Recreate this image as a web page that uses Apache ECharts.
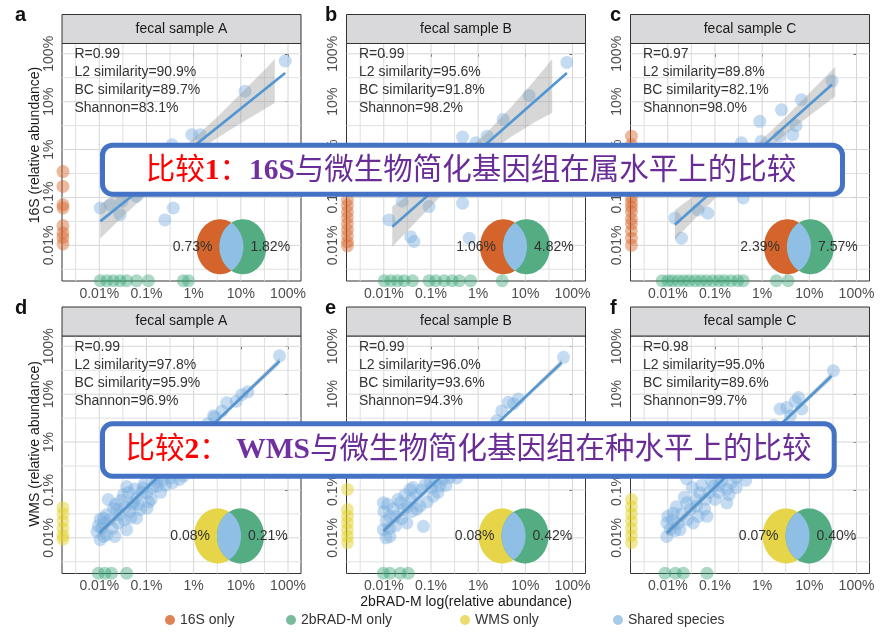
<!DOCTYPE html>
<html>
<head>
<meta charset="utf-8">
<script src="https://cdn.jsdelivr.net/npm/echarts@6/dist/echarts.min.js"></script>
<style>
html,body{margin:0;padding:0;background:#fff;}
#chart{width:885px;height:634px;}
</style>
</head>
<body>
<div id="chart"></div>
<script>
// ---- axis scale (log10 of relative abundance) ----
const tickValues = [-4, -3, -2, -1, 0];
const tickLabels = ['0.01%', '0.1%', '1%', '10%', '100%'];
const gridValues = [-4.5, -4, -3.5, -3, -2.5, -2, -1.5, -1, -0.5, 0];
const xRange = [-4.79, 0.275];
const yRange = [-4.745, 0.215];
// taxa missing from one method sit on the axis floor
const absentX = -4.77;
const absentY = -4.74;

// ---- panel text ----
const panelLetters = ['a', 'b', 'c', 'd', 'e', 'f'];
const stripTitles = ['fecal sample A', 'fecal sample B', 'fecal sample C', 'fecal sample A', 'fecal sample B', 'fecal sample C'];
const statR = ['0.99', '0.99', '0.97', '0.99', '0.99', '0.98'];
const statL2 = ['90.9%', '95.6%', '89.8%', '97.8%', '96.0%', '95.0%'];
const statBC = ['89.7%', '91.8%', '82.1%', '95.9%', '93.6%', '89.6%'];
const statShannon = ['83.1%', '98.2%', '98.0%', '96.9%', '94.3%', '99.7%'];
const vennLeft = ['0.73%', '1.06%', '2.39%', '0.08%', '0.08%', '0.07%'];
const vennRight = ['1.82%', '4.82%', '7.57%', '0.21%', '0.42%', '0.40%'];
const vennCenter = [[-1.20, -4.03], [-1.22, -4.03], [-1.22, -4.03], [-1.25, -3.96], [-1.25, -3.96], [-1.25, -3.96]];

// ---- shared taxa: [2bRAD-M, other method] in log10 abundance ----
const sharedA = [[-0.06,-0.15],[-0.91,-0.78],[-2.04,-1.69],[-1.86,-1.69],[-2.46,-1.90],[-2.2,-2.3],[-2.7,-2.5],[-3.0,-2.7],
  [-3.98,-3.22],[-3.77,-3.15],[-3.56,-3.36],[-3.52,-3.08],[-2.43,-3.22],[-2.61,-3.47],[-3.21,-2.98]];
const sharedB = [[-0.12,-0.18],[-0.92,-0.87],[-1.47,-1.37],[-1.81,-1.72],[-2.33,-1.74],[-2.05,-1.86],[-2.5,-2.4],[-3.0,-2.8],
  [-3.61,-3.08],[-3.04,-3.19],[-2.33,-3.12],[-3.89,-3.47],[-3.43,-3.82],[-3.36,-3.92],[-2.19,-3.85]];
const sharedC = [[-0.52,-0.57],[-1.17,-0.96],[-1.59,-1.17],[-2.05,-1.41],[-1.28,-1.50],[-1.35,-1.69],[-1.63,-1.72],[-2.44,-1.86],
  [-2.02,-1.83],[-2.6,-2.4],[-2.9,-2.7],[-2.40,-3.01],[-3.15,-3.33],[-3.36,-3.26],[-3.85,-3.43],[-3.71,-3.85]];
const sharedD = [[-0.18,-0.20],[-0.98,-1.01],[-1.30,-1.18],[-1.55,-1.48],[-1.58,-1.45],[-1.85,-1.75],[-2.1,-2.0],[-2.3,-2.25],
  [-2.5,-2.45],[-2.22,-2.71],[-2.50,-2.75],[-2.78,-2.82],[-2.78,-2.92],[-3.07,-2.96],[-2.99,-3.06],[-3.42,-2.93],[-3.49,-3.10],
  [-3.21,-3.17],[-2.99,-3.38],[-3.14,-3.41],[-3.70,-3.38],[-3.63,-3.41],[-3.35,-3.45],[-3.81,-3.20],[-3.91,-3.59],[-3.60,-3.69],
  [-3.21,-3.59],[-3.98,-3.61],[-4.05,-3.87],[-3.84,-3.94],[-3.98,-4.04],[-3.67,-3.97],[-3.91,-3.97],[-3.42,-3.83],[-3.3,-3.3],
  [-2.9,-3.2],[-2.6,-2.9],
  [-4.02,-3.75],[-3.95,-3.80],[-3.90,-3.70],[-3.85,-3.52],[-3.78,-3.62],[-3.72,-3.80],[-3.66,-3.30],[-3.58,-3.52],[-3.54,-3.22],
  [-3.47,-3.62],[-3.45,-3.35],[-3.38,-3.05],[-3.33,-3.58],[-3.28,-3.25],[-3.25,-2.98],[-3.18,-3.30],[-3.10,-3.05],[-3.05,-2.88],
  [-2.95,-3.25],[-2.88,-2.95],[-2.82,-2.75],[-2.70,-3.05],[-2.66,-2.80],[-2.58,-2.62],[-2.45,-2.85],[-2.38,-2.62],[-2.30,-2.78],
  [-2.15,-2.55],[-2.05,-2.30],[-1.95,-2.10],[-1.8,-1.95],[-1.7,-1.62],[-1.4,-1.35],[-1.1,-1.15],[-0.85,-0.95]];
const sharedE = [[-0.19,-0.23],[-1.36,-1.17],[-1.15,-1.10],[-1.6,-1.55],[-1.9,-1.9],[-2.2,-2.2],[-2.4,-2.5],[-2.60,-2.74],
  [-3.02,-2.85],[-3.44,-2.99],[-3.65,-3.27],[-4.01,-3.27],[-3.87,-3.55],[-4.01,-3.83],[-3.87,-3.97],[-3.51,-3.69],[-3.16,-3.76],
  [-3.23,-3.34],[-2.95,-3.13],[-2.81,-2.92],[-3.58,-3.41],[-3.3,-3.1],[-3.75,-3.75],[-3.95,-4.0],[-3.4,-3.45],
  [-4.00,-3.45],[-3.95,-3.65],[-3.92,-3.30],[-3.88,-3.80],[-3.80,-3.40],[-3.75,-3.55],[-3.70,-3.20],[-3.62,-3.60],[-3.55,-3.10],
  [-3.50,-3.35],[-3.42,-3.20],[-3.38,-2.95],[-3.30,-3.40],[-3.20,-3.00],[-3.12,-2.88],[-3.08,-3.25],[-2.98,-2.95],[-2.90,-2.80],
  [-2.85,-3.05],[-2.75,-2.78],[-2.68,-2.90],[-2.55,-2.62],[-2.45,-2.75],[-2.3,-2.4],[-2.1,-2.05],[-1.8,-1.75],[-1.5,-1.35],
  [-1.25,-1.2]];
const sharedF = [[-0.49,-0.51],[-1.23,-1.07],[-1.48,-1.28],[-1.62,-1.31],[-1.16,-1.31],[-1.9,-1.8],[-2.2,-2.1],[-2.4,-2.5],
  [-2.54,-2.74],[-2.75,-2.99],[-3.03,-2.92],[-3.32,-3.06],[-3.60,-3.27],[-3.39,-3.34],[-3.88,-3.48],[-4.02,-3.69],[-3.74,-3.83],
  [-3.46,-3.69],[-4.02,-3.97],[-3.17,-3.55],[-2.75,-3.27],[-3.60,-2.77],[-3.85,-3.85],[-3.2,-3.2],[-2.9,-2.9],
  [-4.00,-3.55],[-3.95,-3.82],[-3.90,-3.62],[-3.82,-3.35],[-3.78,-3.70],[-3.70,-3.50],[-3.65,-3.15],[-3.58,-3.62],[-3.52,-3.40],
  [-3.48,-2.95],[-3.40,-3.20],[-3.35,-3.55],[-3.28,-2.90],[-3.22,-3.40],[-3.12,-3.05],[-3.08,-2.80],[-3.00,-3.20],[-2.92,-3.05],
  [-2.85,-2.80],[-2.70,-3.10],[-2.65,-2.85],[-2.55,-2.95],[-2.48,-2.62],[-2.35,-2.80],[-2.2,-2.45],[-2.0,-2.1],[-1.75,-1.65],
  [-1.4,-1.45],[-1.3,-1.15]];

// ---- taxa found only by the other method (16S or WMS): log10 abundance ----
const otherOnlyA = [-2.46,-2.77,-3.15,-3.22,-3.59,-3.74,-3.84,-3.97];
const otherOnlyB = [-2.2,-2.6,-3.05,-3.17,-3.30,-3.42,-3.55,-3.68,-3.80,-3.93,-4.01];
const otherOnlyC = [-1.72,-1.90,-2.2,-2.6,-3.0,-3.1,-3.2,-3.3,-3.45,-3.55,-3.7,-3.85,-4.0];
const otherOnlyD = [-3.37,-3.5,-3.65,-3.8,-3.95,-4.03];
const otherOnlyE = [-2.99,-3.41,-3.55,-3.69,-3.83,-3.97,-4.1];
const otherOnlyF = [-3.2,-3.35,-3.5,-3.65,-3.8,-3.95,-4.1];

// ---- taxa found only by 2bRAD-M: log10 abundance ----
const radOnlyA = [-3.98,-3.84,-3.70,-3.56,-3.42,-3.21,-2.96,-2.22,-2.11];
const radOnlyB = [-3.99,-3.85,-3.71,-3.57,-3.39,-3.04,-2.90,-2.72,-2.55,-2.40,-2.16,-1.49];
const radOnlyC = [-4.12,-4.0,-3.9,-3.78,-3.66,-3.55,-3.42,-3.3,-3.18,-3.05,-2.92,-2.8,-2.66,-2.52,-2.40,-1.70,-1.45];
const radOnlyD = [-4.02,-3.88,-3.74,-3.42];
const radOnlyE = [-4.01,-3.87,-3.65,-3.48];
const radOnlyF = [-4.06,-3.84,-3.67,-3.17];

// ---- linear fit and 95% band: [x, lower, upper] ----
const fitA = [[-3.98,-3.50],[-0.06,-0.40]];
const fitB = [[-3.82,-3.61],[-0.12,-0.40]];
const fitC = [[-3.85,-3.57],[-0.52,-0.64]];
const fitD = [[-4.00,-3.90],[-0.18,-0.31]];
const fitE = [[-4.01,-3.86],[-0.23,-0.34]];
const fitF = [[-4.02,-3.90],[-0.53,-0.62]];
const bandA = [[-3.98,-3.86,-3.14],[-3.5,-3.40,-2.84],[-3.0,-2.94,-2.52],[-2.5,-2.49,-2.17],[-2.0,-2.09,-1.77],
  [-1.5,-1.76,-1.32],[-1.0,-1.45,-0.83],[-0.5,-1.16,-0.34],[-0.28,-1.03,-0.11]];
const bandB = [[-3.82,-4.03,-3.19],[-3.3,-3.49,-2.83],[-2.8,-2.98,-2.48],[-2.3,-2.50,-2.08],[-1.8,-2.09,-1.63],
  [-1.3,-1.73,-1.11],[-0.8,-1.43,-0.55],[-0.43,-1.23,-0.11]];
const bandC = [[-3.85,-3.88,-3.26],[-3.3,-3.32,-2.86],[-2.7,-2.73,-2.39],[-2.1,-2.18,-1.88],[-1.5,-1.68,-1.32],
  [-0.9,-1.22,-0.72],[-0.45,-0.89,-0.27]];
const bandD = [[-4.00,-3.97,-3.83],[-3.0,-3.00,-2.92],[-2.0,-2.05,-1.99],[-1.0,-1.13,-1.03],[-0.18,-0.38,-0.24]];
const bandE = [[-4.01,-3.93,-3.79],[-3.0,-2.96,-2.88],[-2.0,-2.02,-1.96],[-1.0,-1.11,-1.01],[-0.23,-0.41,-0.27]];
const bandF = [[-4.02,-3.98,-3.82],[-3.0,-2.99,-2.89],[-2.0,-2.04,-1.96],[-1.2,-1.30,-1.20],[-0.53,-0.70,-0.54]];

const shared = [sharedA, sharedB, sharedC, sharedD, sharedE, sharedF];
const otherOnly = [otherOnlyA, otherOnlyB, otherOnlyC, otherOnlyD, otherOnlyE, otherOnlyF];
const radOnly = [radOnlyA, radOnlyB, radOnlyC, radOnlyD, radOnlyE, radOnlyF];
const fits = [fitA, fitB, fitC, fitD, fitE, fitF];
const bands = [bandA, bandB, bandC, bandD, bandE, bandF];

// ---- styling ----
const FONT = '"Liberation Sans", Arial, sans-serif';
const colOrange = 'rgba(214,98,38,0.55)';
const colGreen = 'rgba(45,160,112,0.5)';
const colYellow = 'rgba(228,208,40,0.6)';
const colBlue = 'rgba(120,172,222,0.55)';
const vennColors = { orange: '#D4642B', green: '#54AC83', yellow: '#E6D548', lens: '#8FBFE4' };

const colLeft = [62, 346.5, 630.5];
const rowTop = [43.5, 336];
const letterX = [15, 325, 610];
const plotW = 239, plotH = 237.5, stripH = 29;

const grids = [], xAxes = [], yAxes = [], series = [], graphics = [];

function tickText(v) {
  const k = tickValues.indexOf(Math.round(v));
  return k >= 0 ? tickLabels[k] : '';
}

for (let i = 0; i < 6; i++) {
  const r = Math.floor(i / 3), c = i % 3;
  const left = colLeft[c], top = rowTop[r];
  grids.push({ left: left, top: top, width: plotW, height: plotH, show: true, z: 0,
    backgroundColor: 'transparent', borderColor: '#333', borderWidth: 1, outerBoundsMode: 'none' });
  xAxes.push({ type: 'value', gridIndex: i, min: xRange[0], max: xRange[1],
    axisLine: { show: false }, splitLine: { show: false },
    axisTick: { show: true, customValues: tickValues, length: 3, lineStyle: { color: '#333' } },
    axisLabel: { show: true, customValues: tickValues, formatter: tickText, fontSize: 14,
      color: '#4d4d4d', margin: 6, fontFamily: FONT } });
  yAxes.push({ type: 'value', gridIndex: i, min: yRange[0], max: yRange[1],
    axisLine: { show: false }, splitLine: { show: false },
    axisTick: { show: true, customValues: tickValues, length: 3, lineStyle: { color: '#333' } },
    axisLabel: { show: true, customValues: tickValues, formatter: tickText, fontSize: 14, rotate: 90,
      align: 'center', verticalAlign: 'bottom',
      color: '#4d4d4d', margin: 6, fontFamily: FONT } });

  // background grid lines at decades and half decades
  gridValues.forEach(v => {
    const major = Number.isInteger(v);
    const ls = { color: major ? '#d6d6d6' : '#e0e0e0', width: 1, type: 'solid' };
    series.push({ type: 'line', xAxisIndex: i, yAxisIndex: i, z: 2, silent: true, animation: false,
      symbol: 'none', lineStyle: ls, data: [[v, yRange[0]], [v, yRange[1]]] });
    series.push({ type: 'line', xAxisIndex: i, yAxisIndex: i, z: 2, silent: true, animation: false,
      symbol: 'none', lineStyle: ls, data: [[xRange[0], v], [xRange[1], v]] });
  });

  // taxa shared by both methods
  series.push({ name: 'Shared species', type: 'scatter', xAxisIndex: i, yAxisIndex: i, z: 3, clip: false,
    symbolSize: 13, itemStyle: { color: colBlue }, data: shared[i], animation: false, silent: true });
  // taxa only in 16S / WMS, placed on the left edge
  series.push({ name: r === 0 ? '16S only' : 'WMS only', type: 'scatter', xAxisIndex: i, yAxisIndex: i, z: 3, clip: false,
    symbolSize: 13, itemStyle: { color: r === 0 ? colOrange : colYellow },
    data: otherOnly[i].map(v => [absentX, v]), animation: false, silent: true });
  // taxa only in 2bRAD-M, placed on the bottom edge
  series.push({ name: '2bRAD-M only', type: 'scatter', xAxisIndex: i, yAxisIndex: i, z: 3, clip: false,
    symbolSize: 13, itemStyle: { color: colGreen },
    data: radOnly[i].map(v => [v, absentY]), animation: false, silent: true });

  // confidence band
  const band = bands[i];
  series.push({ type: 'custom', xAxisIndex: i, yAxisIndex: i, z: 4, silent: true, animation: false,
    data: [[band[0][0], band[0][1]]],
    renderItem: function (params, api) {
      const up = band.map(b => api.coord([b[0], b[2]]));
      const lo = band.map(b => api.coord([b[0], b[1]])).reverse();
      return { type: 'polygon', shape: { points: up.concat(lo) },
        style: { fill: 'rgba(150,150,150,0.38)' } };
    } });
  // fitted line
  series.push({ type: 'line', xAxisIndex: i, yAxisIndex: i, z: 5, data: fits[i], symbol: 'none', silent: true,
    animation: false, lineStyle: { color: '#5296D3', width: 2.6 } });

  // Venn inset of taxa overlap
  const leftCol = r === 0 ? vennColors.orange : vennColors.yellow;
  const lt = vennLeft[i], rt = vennRight[i];
  series.push({ type: 'custom', xAxisIndex: i, yAxisIndex: i, z: 7, silent: true, animation: false, clip: false,
    data: [vennCenter[i]],
    renderItem: function (params, api) {
      const p = api.coord([api.value(0), api.value(1)]);
      const rx = 23.5, ry = 27.5, off = 11.5;
      const ellipse = (cx) => {
        const pts = [];
        for (let k = 0; k < 90; k++) {
          const t = k / 90 * Math.PI * 2;
          pts.push([cx + rx * Math.cos(t), p[1] + ry * Math.sin(t)]);
        }
        return pts;
      };
      const t0 = Math.acos(off / rx);
      const lens = [];
      for (let k = 0; k <= 40; k++) {
        const t = -t0 + 2 * t0 * k / 40;
        lens.push([p[0] - off + rx * Math.cos(t), p[1] + ry * Math.sin(t)]);
      }
      for (let k = 0; k <= 40; k++) {
        const t = t0 - 2 * t0 * k / 40;
        lens.push([p[0] + off - rx * Math.cos(t), p[1] + ry * Math.sin(t)]);
      }
      return { type: 'group', children: [
        { type: 'polygon', shape: { points: ellipse(p[0] - off) }, style: { fill: leftCol } },
        { type: 'polygon', shape: { points: ellipse(p[0] + off) }, style: { fill: vennColors.green } },
        { type: 'polygon', shape: { points: lens }, style: { fill: vennColors.lens } },
        { type: 'text', style: { text: lt, x: p[0] - 19, y: p[1], align: 'right', verticalAlign: 'middle',
          fill: '#333', fontSize: 14, fontFamily: FONT } },
        { type: 'text', style: { text: rt, x: p[0] + 19, y: p[1], align: 'left', verticalAlign: 'middle',
          fill: '#333', fontSize: 14, fontFamily: FONT } }
      ] };
    } });

  // facet strip
  graphics.push({ type: 'rect', z: 20, shape: { x: left, y: top - stripH, width: plotW, height: stripH },
    style: { fill: '#d9d9db', stroke: '#333', lineWidth: 1 } });
  graphics.push({ type: 'text', z: 21, x: left + plotW / 2, y: top - stripH / 2,
    style: { text: stripTitles[i], fill: '#1a1a1a', font: '14px ' + FONT, textAlign: 'center', textVerticalAlign: 'middle',
      align: 'center', verticalAlign: 'middle' } });
  // panel letter
  graphics.push({ type: 'text', z: 21, x: letterX[c], y: top - 28,
    style: { text: panelLetters[i], fill: '#111', font: 'bold 20px ' + FONT, textAlign: 'left', textVerticalAlign: 'middle',
      align: 'left', verticalAlign: 'middle' } });
  // agreement statistics
  graphics.push({ type: 'text', z: 21, x: left + 12.5, y: top + 2,
    style: { text: 'R=' + statR[i] + '\nL2 similarity=' + statL2[i] + '\nBC similarity=' + statBC[i] + '\nShannon=' + statShannon[i],
      fill: '#333', font: '14px ' + FONT, lineHeight: 18, textAlign: 'left', textVerticalAlign: 'top',
      align: 'left', verticalAlign: 'top' } });
}

// axis titles
graphics.push({ type: 'text', z: 21, x: 35, y: 145, rotation: Math.PI / 2,
  style: { text: '16S (relative abundance)', fill: '#1a1a1a', font: '14px ' + FONT,
    textAlign: 'center', textVerticalAlign: 'middle', align: 'center', verticalAlign: 'middle' } });
graphics.push({ type: 'text', z: 21, x: 35, y: 444, rotation: Math.PI / 2,
  style: { text: 'WMS (relative abundance)', fill: '#1a1a1a', font: '14px ' + FONT,
    textAlign: 'center', textVerticalAlign: 'middle', align: 'center', verticalAlign: 'middle' } });
graphics.push({ type: 'text', z: 21, x: colLeft[1] + plotW / 2, y: 602,
  style: { text: '2bRAD-M log(relative abundance)', fill: '#1a1a1a', font: '14px ' + FONT,
    textAlign: 'center', textVerticalAlign: 'middle', align: 'center', verticalAlign: 'middle' } });

// callout boxes
const SERIF = '"Liberation Serif", "Noto Sans CJK SC", serif';
const CJK = '"Liberation Serif", "Noto Sans CJK SC", sans-serif';
const calloutRich = {
  r: { fill: '#FF0000', fontSize: 29.5, fontFamily: CJK },
  rb: { fill: '#FF0000', fontSize: 29.5, fontFamily: SERIF, fontWeight: 'bold' },
  b: { fill: '#7030A0', fontSize: 29.5, fontFamily: SERIF, fontWeight: 'bold' },
  p: { fill: '#6A2C96', fontSize: 29.5, fontFamily: CJK }
};
graphics.push({ type: 'rect', z: 50, shape: { x: 102.5, y: 145.2, width: 740, height: 49, r: 10 },
  style: { fill: '#fff', stroke: '#4472C4', lineWidth: 5 } });
graphics.push({ type: 'text', z: 51, x: 471, y: 171,
  style: { text: '{r|比较}{rb|1}{r|：}{b|16S}{p|与微生物简化基因组在属水平上的比较}', rich: calloutRich,
    textAlign: 'center', textVerticalAlign: 'middle', align: 'center', verticalAlign: 'middle' } });
graphics.push({ type: 'rect', z: 50, shape: { x: 102.5, y: 423.8, width: 731.7, height: 52.4, r: 10 },
  style: { fill: '#fff', stroke: '#4472C4', lineWidth: 5 } });
graphics.push({ type: 'text', z: 51, x: 468.5, y: 450.5,
  style: { text: '{r|比较}{rb|2}{r|：}{p| }{b|WMS}{p|与微生物简化基因组在种水平上的比较}', rich: calloutRich,
    textAlign: 'center', textVerticalAlign: 'middle', align: 'center', verticalAlign: 'middle' } });

// legend entries
const legendNames = ['16S only', '2bRAD-M only', 'WMS only', 'Shared species'];
const legendColors = ['#D4642B', '#54AC83', '#E6D548', '#90BFE4'];
const legendX = [170, 291, 465, 618];
const legends = legendNames.map((n, k) => ({
  data: [{ name: n, itemStyle: { color: legendColors[k] } }],
  left: legendX[k] - 5, top: 613, icon: 'circle', itemWidth: 10, itemHeight: 10,
  selectedMode: false, padding: 0,
  textStyle: { fontSize: 14, color: '#333', fontFamily: FONT }
}));

const chart = echarts.init(document.getElementById('chart'), null, { renderer: 'canvas', width: 885, height: 634 });
chart.setOption({
  animation: false,
  backgroundColor: '#fff',
  grid: grids,
  xAxis: xAxes,
  yAxis: yAxes,
  legend: legends,
  series: series,
  graphic: { elements: graphics }
});
</script>
</body>
</html>
